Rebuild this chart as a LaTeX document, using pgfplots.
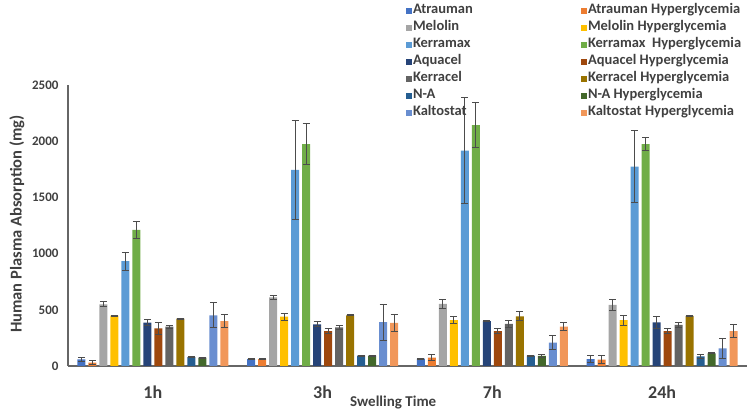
\documentclass[border=0pt]{standalone}
\usepackage{pgfplots}
\usepackage{pgfplotstable}
\pgfplotsset{compat=1.18}
\usepackage{fontspec}
\setmainfont{Carlito}
\definecolor{txt}{HTML}{404040}
\definecolor{cA}{HTML}{4472C4}
\definecolor{cAH}{HTML}{ED7D31}
\definecolor{cM}{HTML}{A5A5A5}
\definecolor{cMH}{HTML}{FFC000}
\definecolor{cK}{HTML}{5B9BD5}
\definecolor{cKH}{HTML}{70AD47}
\definecolor{cQ}{HTML}{264478}
\definecolor{cQH}{HTML}{9E480E}
\definecolor{cC}{HTML}{636363}
\definecolor{cCH}{HTML}{997300}
\definecolor{cN}{HTML}{255E91}
\definecolor{cNH}{HTML}{43682B}
\definecolor{cT}{HTML}{698ED0}
\definecolor{cTH}{HTML}{F1975A}
\pgfplotstableread{
x a ae ah ahe m me mh mhe k ke kh khe q qe qh qhe c ce ch che n ne nh nhe t te th the
0 60 20 30 15 549 22 448 5 934 80 1210 75 385 25 335 50 350 15 421 5 80 5 74 3 451 110 400 55
1 62 3 62 3 611 20 439 30 1744 440 1975 185 371 22 311 20 344 18 451 5 92 3 92 3 391 160 383 80
2 65 3 74 25 552 40 409 30 1916 470 2144 200 400 5 311 20 374 28 442 40 92 3 89 15 208 60 350 38
3 62 30 56 35 543 45 409 45 1773 320 1975 55 388 55 311 20 365 20 445 5 86 15 113 5 157 90 311 55
}\data
\newcommand{\lw}[1]{\makebox[167pt][l]{#1}}
\begin{document}
\begin{tikzpicture}
\begin{axis}[
  scale only axis,
  width=679pt, height=281pt,
  xmin=-0.5, xmax=3.5, ymin=0, ymax=2500,
  ybar=3pt, bar width=8pt,
  axis x line=bottom, axis y line=left,
  axis line style={-, draw=black!60, line width=1.2pt},
  xtick={0,1,2,3}, xticklabels={1h,3h,7h,24h},
  ytick={0,500,1000,1500,2000,2500},
  major tick length=0pt,
  /pgf/number format/assume math mode=true,
  /pgf/number format/1000 sep={},
  xticklabel style={font=\fontsize{18}{20}\selectfont\bfseries, text=txt, yshift=-16pt},
  yticklabel style={font=\fontsize{13}{15}\selectfont\bfseries, text=txt, xshift=-6pt},
  xlabel={Swelling Time},
  xlabel style={font=\fontsize{15}{17}\selectfont\bfseries, text=txt, at={(axis description cs:0.479,-0.1317)}, anchor=center},
  ylabel={Human Plasma Absorption (mg)},
  ylabel style={font=\fontsize{16.5}{18}\selectfont\bfseries, text=txt, at={(axis description cs:-0.0751,0.505)}, anchor=center, rotate=0},
  error bars/y dir=both, error bars/y explicit,
  error bars/error bar style={draw=black!70, line width=0.9pt},
  error bars/error mark options={rotate=90, mark size=3.5pt, draw=black!70, line width=0.9pt},
  legend columns=2,
  legend cell align=left,
  legend style={draw=none, fill=none, at={(rel axis cs:0.4975,1.289)}, anchor=north west,
    font=\fontsize{14.5}{16}\selectfont\bfseries, text=txt,
    row sep=3pt, inner sep=0pt,
    nodes={inner sep=1pt, text height=9pt, text depth=3pt}},
  legend image code/.code={\fill[#1,draw=none] (0pt,-3pt) rectangle (6pt,3pt);},
]
\addplot[fill=cA, draw=none] table[x=x, y=a, y error=ae]{\data};
\addlegendentry{\lw{Atrauman}}
\addplot[fill=cAH, draw=none] table[x=x, y=ah, y error=ahe]{\data};
\addlegendentry{Atrauman Hyperglycemia}
\addplot[fill=cM, draw=none] table[x=x, y=m, y error=me]{\data};
\addlegendentry{\lw{Melolin}}
\addplot[fill=cMH, draw=none] table[x=x, y=mh, y error=mhe]{\data};
\addlegendentry{Melolin Hyperglycemia}
\addplot[fill=cK, draw=none] table[x=x, y=k, y error=ke]{\data};
\addlegendentry{\lw{Kerramax}}
\addplot[fill=cKH, draw=none] table[x=x, y=kh, y error=khe]{\data};
\addlegendentry{Kerramax\ \ Hyperglycemia}
\addplot[fill=cQ, draw=none] table[x=x, y=q, y error=qe]{\data};
\addlegendentry{\lw{Aquacel}}
\addplot[fill=cQH, draw=none] table[x=x, y=qh, y error=qhe]{\data};
\addlegendentry{Aquacel Hyperglycemia}
\addplot[fill=cC, draw=none] table[x=x, y=c, y error=ce]{\data};
\addlegendentry{\lw{Kerracel}}
\addplot[fill=cCH, draw=none] table[x=x, y=ch, y error=che]{\data};
\addlegendentry{Kerracel Hyperglycemia}
\addplot[fill=cN, draw=none] table[x=x, y=n, y error=ne]{\data};
\addlegendentry{\lw{N-A}}
\addplot[fill=cNH, draw=none] table[x=x, y=nh, y error=nhe]{\data};
\addlegendentry{N-A Hyperglycemia}
\addplot[fill=cT, draw=none] table[x=x, y=t, y error=te]{\data};
\addlegendentry{\lw{Kaltostat}}
\addplot[fill=cTH, draw=none] table[x=x, y=th, y error=the]{\data};
\addlegendentry{Kaltostat Hyperglycemia}
\end{axis}
\path[use as bounding box] (-68pt,-46pt) rectangle (682pt,366pt);
\end{tikzpicture}
\end{document}
